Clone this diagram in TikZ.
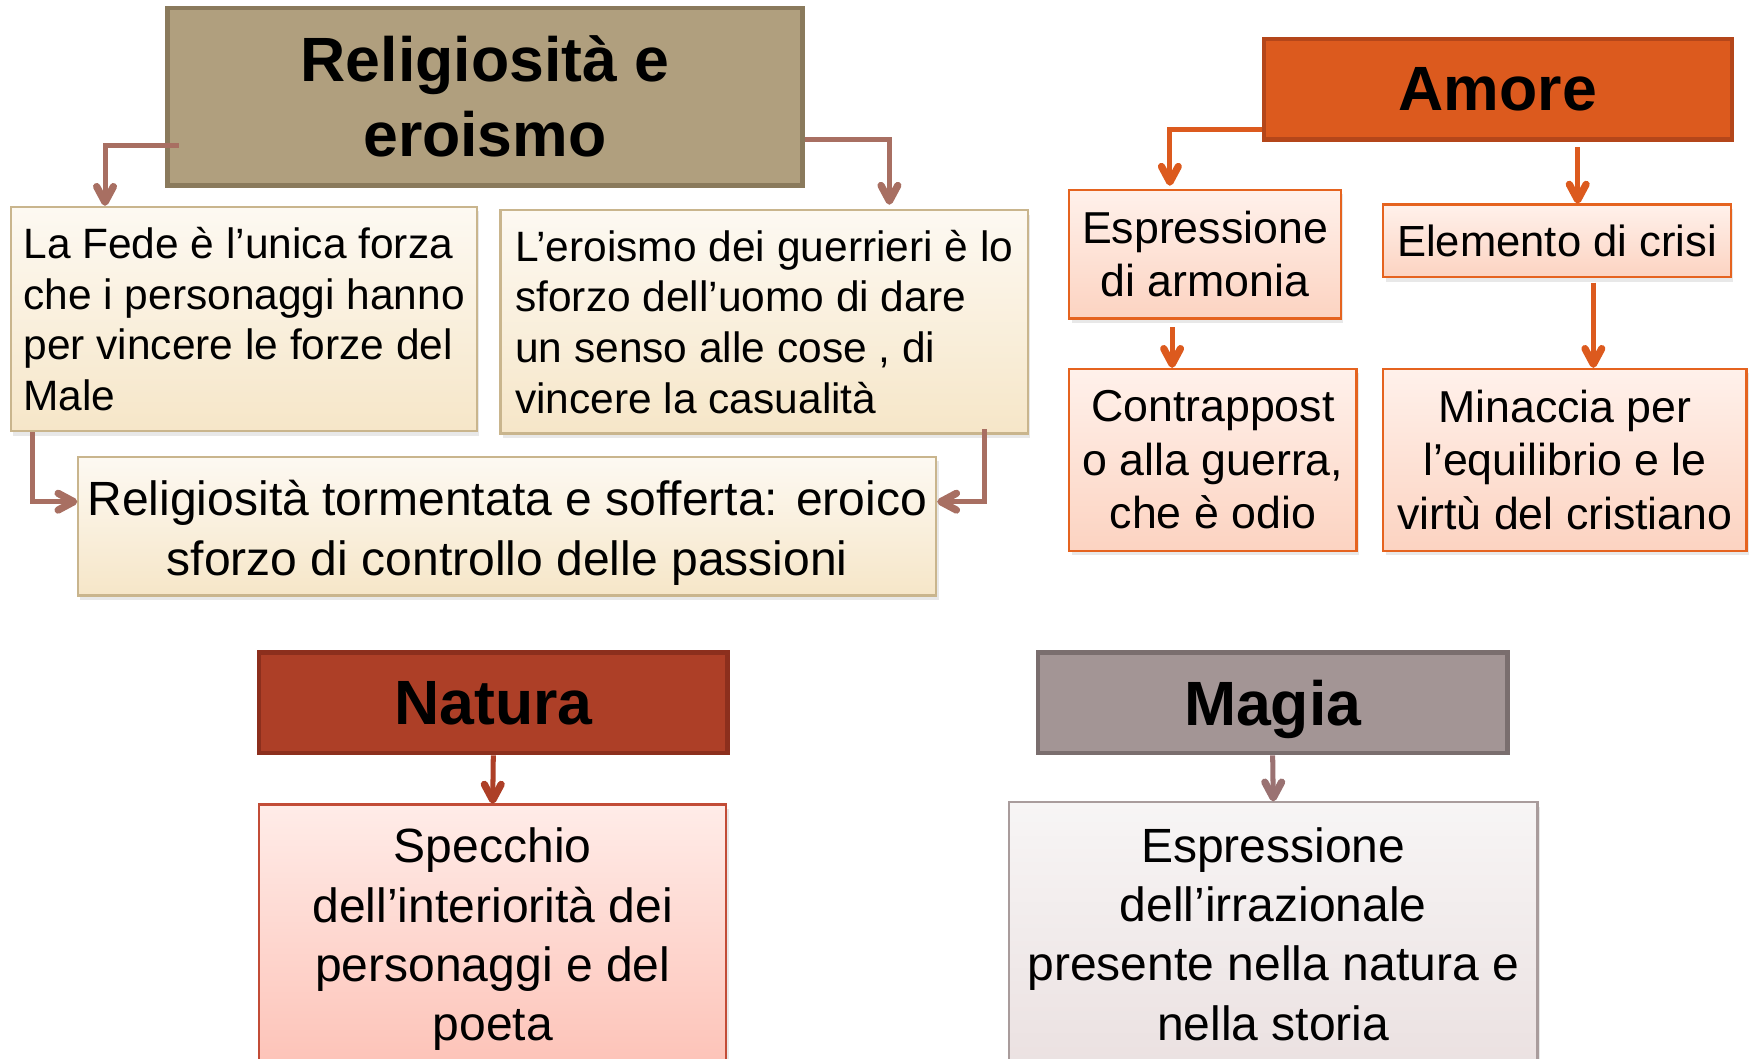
\documentclass[tikz,border=0pt]{standalone}
\usepackage{fontspec}
\setmainfont{Liberation Sans}
\usetikzlibrary{shadows,calc}
\definecolor{tanF}{HTML}{B09F7E}
\definecolor{tanD}{HTML}{8A7A5C}
\definecolor{creamT}{HTML}{FDF9F2}
\definecolor{creamB}{HTML}{F6E6C8}
\definecolor{creamD}{HTML}{C9B58D}
\definecolor{brownA}{HTML}{A86F62}
\definecolor{orF}{HTML}{DC5A1E}
\definecolor{orD}{HTML}{B4461A}
\definecolor{orL}{HTML}{E5631F}
\definecolor{orT}{HTML}{FFF1EB}
\definecolor{orB}{HTML}{FCD3C1}
\definecolor{redF}{HTML}{AD3F27}
\definecolor{redD}{HTML}{8C2F1D}
\definecolor{redL}{HTML}{C24C37}
\definecolor{redT}{HTML}{FFECE8}
\definecolor{redB}{HTML}{FDC3B8}
\definecolor{grF}{HTML}{A39595}
\definecolor{grD}{HTML}{7A6E6E}
\definecolor{grL}{HTML}{A99C9C}
\definecolor{grT}{HTML}{F7F5F5}
\definecolor{grB}{HTML}{EBE1E1}
\definecolor{grA}{HTML}{9A7272}
\begin{document}
\begin{tikzpicture}[x=1pt,y=-1pt,
  headbox/.style={draw, line width=4pt, inner sep=0pt, align=center,
    font=\bfseries\fontsize{56}{67}\selectfont},
  subbox/.style={draw, line width=2pt, inner sep=0pt,
    drop shadow={shadow xshift=2pt,shadow yshift=-4pt,opacity=0.18}},
  creambox/.style={subbox, draw=creamD, top color=creamT, bottom color=creamB},
  orbox/.style={subbox, draw=orL, top color=orT, bottom color=orB, align=center,
    font=\fontsize{40}{48}\selectfont},
  conn/.style={line width=4.5pt},
  chevD/.pic={\draw[line width=6.5pt, line cap=round, line join=round] (-7.5,-14) -- (0,0) -- (7.5,-14);},
  chevR/.pic={\draw[line width=6.5pt, line cap=round, line join=round] (-14,-7.5) -- (0,0) -- (-14,7.5);},
  chevL/.pic={\draw[line width=6.5pt, line cap=round, line join=round] (14,-7.5) -- (0,0) -- (14,7.5);},
]
\useasboundingbox (0,0) rectangle (1568,947);

% Religiosita e eroismo
\node[headbox, draw=tanD, fill=tanF, minimum width=568pt, minimum height=159pt]
  (T1) at (434,86.5) {Religiosità e\\eroismo};
\node[creambox, align=left, font=\fontsize{38}{45.3}\selectfont,
  minimum width=417pt, minimum height=201pt]
  (A) at (218.5,285.5) {La Fede è l’unica forza\\che i personaggi hanno\\per vincere le forze del\\Male};
\node[creambox, align=left, font=\fontsize{38}{45.3}\selectfont,
  minimum width=472pt, minimum height=200pt]
  (B) at (684,288) {L’eroismo dei guerrieri è lo\\sforzo dell’uomo di dare\\un senso alle cose , di\\vincere la casualità};
\node[creambox, align=center, font=\fontsize{43}{53}\selectfont,
  minimum width=768pt, minimum height=124pt]
  (C) at (454,471) {\rule{0pt}{43.5pt}Religiosità tormentata e sofferta: eroico\\sforzo di controllo delle passioni};

\coordinate (tA) at ($(A.north west)+(85,-3)$);
\coordinate (tB) at ($(B.north west)+(349,-7)$);
\coordinate (tCl) at ($(C.north west)+(-3,41)$);
\coordinate (tCr) at ($(C.north east)+(3,41)$);
\draw[conn, brownA] ($(T1.west)+(12,43.5)$) -| (tA);
\draw[conn, brownA] ($(T1.east)+(0,38.5)$) -| (tB);
\draw[conn, brownA] ($(A.south west)+(20,0)$) |- (tCl);
\draw[conn, brownA] ($(B.south west)+(434,-5)$) |- (tCr);
\pic[brownA] at (tA) {chevD};
\pic[brownA] at (tB) {chevD};
\pic[brownA] at (tCl) {chevR};
\pic[brownA] at (tCr) {chevL};

% Amore
\node[headbox, draw=orD, fill=orF, minimum width=419pt, minimum height=90pt]
  (AM) at (1340.5,80) {Amore};
\node[orbox, minimum width=243pt, minimum height=115pt]
  (E1) at (1078.5,227.5) {Espressione\\di armonia};
\node[orbox, font=\fontsize{39}{47}\selectfont, minimum width=311pt, minimum height=65pt]
  (E2) at (1393.5,215.5) {Elemento di crisi};
\node[orbox, minimum width=257pt, minimum height=163pt]
  (E3) at (1085.5,411.5) {Contrappost\\o alla guerra,\\che è odio};
\node[orbox, minimum width=325pt, minimum height=163pt]
  (E4) at (1400.5,411.5) {Minaccia per\\l’equilibrio e le\\virtù del cristiano};

\coordinate (am1) at ($(AM.south west)+(0,-11)$);
\coordinate (am2) at ($(AM.south west)+(283,5)$);
\coordinate (e1b) at ($(E1.south west)+(93,7)$);
\coordinate (e2b) at ($(E2.south west)+(189,4)$);
\coordinate (tE1) at ($(E1.north west)+(91,-6)$);
\coordinate (tE2) at ($(am2 |- E2.north)+(0,-3)$);
\coordinate (tE3) at ($(e1b |- E3.north)+(0,-3)$);
\coordinate (tE4) at ($(e2b |- E4.north)+(0,-3)$);
\draw[conn, orF] (am1) -| (tE1);
\draw[conn, orF] (am2) -- (tE2);
\draw[conn, orF] (e1b) -- (tE3);
\draw[conn, orF] (e2b) -- (tE4);
\pic[orF] at (tE1) {chevD};
\pic[orF] at (tE2) {chevD};
\pic[orF] at (tE3) {chevD};
\pic[orF] at (tE4) {chevD};

% Natura
\node[headbox, draw=redD, fill=redF, minimum width=419pt, minimum height=90pt]
  (N) at (441.5,629) {Natura};
\node[subbox, draw=redL, top color=redT, bottom color=redB, align=center,
  font=\fontsize{43}{53}\selectfont, minimum width=418pt, minimum height=233pt]
  (N1) at (441,836.5) {\rule{0pt}{39.5pt}Specchio\\dell’interiorità dei\\personaggi e del\\poeta};
\coordinate (tN) at ($(N1.north)+(0,-3)$);
\draw[conn, redF] (N.south) -- (tN);
\pic[redF] at (tN) {chevD};

% Magia
\node[headbox, draw=grD, fill=grF, minimum width=420pt, minimum height=90pt,
  text depth=0pt]
  (M) at (1139,629) {Magia};
\node[subbox, draw=grL, top color=grT, bottom color=grB, align=center,
  font=\fontsize{43}{53}\selectfont, minimum width=473pt, minimum height=236pt]
  (M1) at (1139.5,836) {Espressione\\dell’irrazionale\\presente nella natura e\\nella storia};
\coordinate (tM) at ($(M1.north)+(0,-3)$);
\draw[conn, grA] (M.south) -- (tM);
\pic[grA] at (tM) {chevD};
\end{tikzpicture}
\end{document}
